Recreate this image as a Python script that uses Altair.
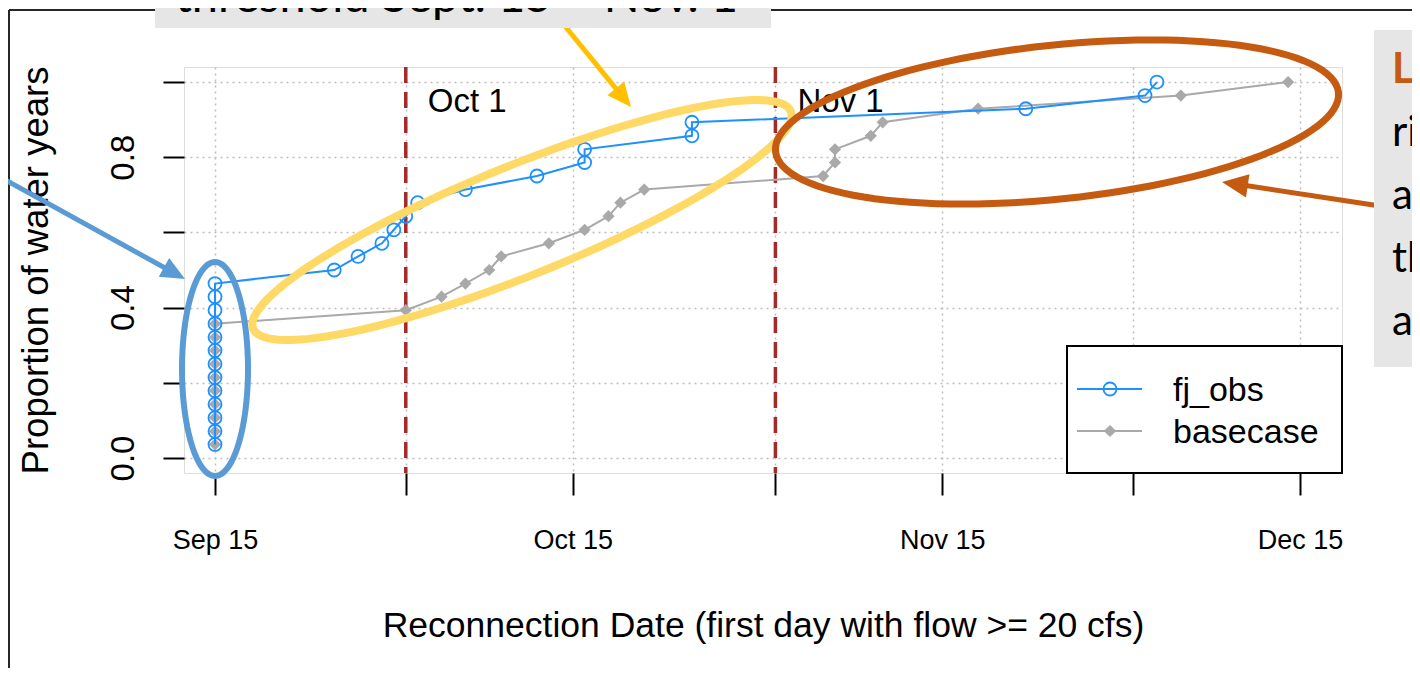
import json
import math
import numpy as np
import pandas as pd
import altair as alt

# ---------------- data ----------------
series_names = ["fj_obs", "basecase"]
series_colors = ["#1e90ff", "#a9a9a9"]

fj_dates = ["2001-09-15"] * 13 + [
    "2001-09-25", "2001-09-27", "2001-09-29", "2001-09-30", "2001-10-01",
    "2001-10-02", "2001-10-06", "2001-10-12", "2001-10-16", "2001-10-16",
    "2001-10-25", "2001-10-25", "2001-11-22", "2001-12-02", "2001-12-03"]
fj_props = [0.036, 0.071, 0.107, 0.143, 0.179, 0.214, 0.250, 0.286, 0.321,
            0.357, 0.393, 0.429, 0.464, 0.500, 0.536, 0.571, 0.607, 0.643,
            0.679, 0.714, 0.750, 0.786, 0.821, 0.857, 0.893, 0.929, 0.964, 1.000]

base_dates = ["2001-09-15"] * 10 + [
    "2001-10-01", "2001-10-04", "2001-10-06", "2001-10-08", "2001-10-09",
    "2001-10-13", "2001-10-16", "2001-10-18", "2001-10-19", "2001-10-21",
    "2001-11-05", "2001-11-06", "2001-11-06", "2001-11-09", "2001-11-10",
    "2001-11-18", "2001-12-05", "2001-12-14"]
base_props = [0.036, 0.071, 0.107, 0.143, 0.179, 0.214, 0.250, 0.286, 0.321,
              0.357, 0.393, 0.429, 0.464, 0.500, 0.536, 0.571, 0.607, 0.643,
              0.679, 0.714, 0.750, 0.786, 0.821, 0.857, 0.893, 0.929, 0.964, 1.000]

threshold_dates = ["2001-10-01", "2001-11-01"]
threshold_labels = ["Oct 1", "Nov 1"]
threshold_label_y = [0.92, 0.92]

x_tick_dates = ["2001-09-15", "2001-10-01", "2001-10-15", "2001-11-01",
                "2001-11-15", "2001-12-01", "2001-12-15"]
x_tick_labels = ["Sep 15", "Oct 15", "Nov 15", "Dec 15"]
x_domain = ["2001-09-12T09:36", "2001-12-18T12:30"]
y_tick_values = [0.0, 0.2, 0.4, 0.6, 0.8, 1.0]
y_tick_labels = ["0.0", "0.4", "0.8"]
y_domain = [-0.04, 1.04]

x_title = "Reconnection Date (first day with flow >= 20 cfs)"
y_title = "Proportion of water years"

top_note = "threshold Sept. 15 \u2013 Nov. 1"
side_note_lines = ["La", "ri", "al", "th", "at"]

# ---------------- helpers ----------------
FONT = "Liberation Sans"
NOTE_FONT = "Lato"
X0, Y0 = 184, 67          # page position of the plot area's top-left corner
W, H = 1158, 406


def px(x):
    return x - X0


def py(y):
    return y - Y0


def dt(s):
    d, _, t = s.partition("T")
    yy, mm, dd = (int(v) for v in d.split("-"))
    kw = dict(year=yy, month=mm, date=dd, utc=True)
    if t:
        hh, mi = (int(v) for v in t.split(":"))
        kw.update(hours=hh, minutes=mi)
    return alt.DateTime(**kw)


def ellipse_path(ratio, n=120):
    t = np.linspace(0, 2 * np.pi, n, endpoint=False)
    pts = [f"{math.cos(a):.4f} {ratio * math.sin(a):.4f}" for a in t]
    return "M " + " L ".join(pts) + " Z"


ARROW_HEAD = "M 0 0 L -1 -0.45 L -1 0.45 Z"
one = alt.Data(values=[{"k": 0}])

# ---------------- scales / axes ----------------
x_label_expr = (f"indexof({json.dumps(x_tick_labels)}, utcFormat(datum.value, '%b %d')) >= 0"
                f" ? utcFormat(datum.value, '%b %d') : ''")
y_label_expr = (f"indexof({json.dumps(y_tick_labels)}, format(datum.value, '.1f')) >= 0"
                f" ? format(datum.value, '.1f') : ''")

x_enc = alt.X(
    "date:T",
    scale=alt.Scale(type="utc", domain=[dt(s) for s in x_domain], nice=False),
    axis=alt.Axis(
        values=[dt(s) for s in x_tick_dates], labelExpr=x_label_expr,
        title=x_title, titleFont=FONT, titleFontSize=35.5, titleFontWeight="normal",
        titleColor="black", titleY=163, titleBaseline="alphabetic",
        labelFont=FONT, labelFontSize=27, labelColor="black", labelPadding=32,
        labelFlush=False, labelOverlap=False,
        tickSize=22, tickWidth=2, tickColor="black", domain=False,
        grid=True, gridDash=[2, 4], gridColor="#bdbdbd", gridWidth=1.5),
)
y_enc = alt.Y(
    "p:Q",
    scale=alt.Scale(domain=y_domain, nice=False, zero=False),
    axis=alt.Axis(
        values=y_tick_values, labelExpr=y_label_expr,
        title=y_title, titleFont=FONT, titleFontSize=36.5, titleFontWeight="normal",
        titleColor="black", titleAngle=270, titleX=-137, titleY=H / 2,
        titleBaseline="alphabetic", titleAlign="center",
        labelFont=FONT, labelFontSize=33, labelColor="black", labelAngle=270,
        labelAlign="center", labelBaseline="alphabetic", labelPadding=30,
        labelFlush=False, labelOverlap=False,
        tickSize=21, tickWidth=2, tickColor="black", domain=False,
        grid=True, gridDash=[2, 4], gridColor="#bdbdbd", gridWidth=1.5),
)

fj_df = pd.DataFrame({"date": fj_dates, "p": fj_props, "series": series_names[0]})
base_df = pd.DataFrame({"date": base_dates, "p": base_props, "series": series_names[1]})
thr_df = pd.DataFrame({"date": threshold_dates, "p": threshold_label_y, "label": threshold_labels})

layers = []

# threshold lines and their labels
layers.append(alt.Chart(thr_df).mark_rule(color="#a52a2a", strokeWidth=3.5, strokeDash=[16, 9])
              .encode(x=x_enc))
layers.append(alt.Chart(thr_df).mark_text(align="left", baseline="alphabetic", dx=22,
                                          font=FONT, fontSize=33, color="black")
              .encode(x=x_enc, y=y_enc, text="label:N"))

# data series: basecase first, fj_obs on top
for df, color, pt in [(base_df, series_colors[1], "base"), (fj_df, series_colors[0], "fj")]:
    layers.append(alt.Chart(df).mark_line(color=color, strokeWidth=2)
                  .encode(x=x_enc, y=y_enc, order=alt.Order("p:Q")))
    if pt == "base":
        mk = alt.Chart(df).mark_point(shape="diamond", filled=True, color=color,
                                      size=150, opacity=1, strokeWidth=0)
    else:
        mk = alt.Chart(df).mark_point(shape="circle", filled=False, color=color,
                                      size=169, opacity=1, strokeWidth=1.8)
    layers.append(mk.encode(x=x_enc, y=y_enc))

# manual legend (R style)
layers.append(alt.Chart(one).mark_rect(fill="white", stroke="black", strokeWidth=2)
              .encode(x=alt.value(px(1067)), x2=alt.value(px(1342)),
                      y=alt.value(py(346)), y2=alt.value(py(473))))
legend_rows = [389, 431]
for name, color, ry in zip(series_names, series_colors, legend_rows):
    layers.append(alt.Chart(one).mark_rule(color=color, strokeWidth=2)
                  .encode(x=alt.value(px(1077)), x2=alt.value(px(1142)),
                          y=alt.value(py(ry)), y2=alt.value(py(ry))))
    if name == "fj_obs":
        m = alt.Chart(one).mark_point(shape="circle", filled=False, color=color,
                                      size=169, opacity=1, strokeWidth=1.8)
    else:
        m = alt.Chart(one).mark_point(shape="diamond", filled=True, color=color,
                                      size=150, opacity=1, strokeWidth=0)
    layers.append(m.encode(x=alt.value(px(1110)), y=alt.value(py(ry))))
    layers.append(alt.Chart(one).mark_text(align="left", baseline="middle", font=FONT,
                                           fontSize=34, color="black")
                  .encode(x=alt.value(px(1173)), y=alt.value(py(ry + 2)),
                          text=alt.value(name)))

# slide frame lines
layers.append(alt.Chart(one).mark_rule(color="#262626", strokeWidth=2)
              .encode(x=alt.value(px(9)), x2=alt.value(px(1420)),
                      y=alt.value(py(10)), y2=alt.value(py(10))))
layers.append(alt.Chart(one).mark_rule(color="#262626", strokeWidth=2)
              .encode(x=alt.value(px(9)), x2=alt.value(px(9)),
                      y=alt.value(py(10)), y2=alt.value(py(687))))

# arrows (start page xy, tip page xy, colour, width, head length)
arrows = [
    ((0, 177), (185, 279), "#5b9bd5", 5, 24),
    ((560, 20), (631, 107), "#ffc000", 5, 24),
    ((1380, 206), (1222, 182), "#c55a11", 5, 26),
]
for (sx, sy), (tx, ty), color, w, L in arrows:
    ang = math.degrees(math.atan2(ty - sy, tx - sx))
    ux, uy = math.cos(math.radians(ang)), math.sin(math.radians(ang))
    ex, ey = tx - 0.6 * L * ux, ty - 0.6 * L * uy
    layers.append(alt.Chart(one).mark_rule(color=color, strokeWidth=w)
                  .encode(x=alt.value(px(sx)), x2=alt.value(px(ex)),
                          y=alt.value(py(sy)), y2=alt.value(py(ey))))
    layers.append(alt.Chart(one).mark_point(shape=ARROW_HEAD, filled=True, color=color,
                                            opacity=1, strokeWidth=0, size=(2 * L) ** 2,
                                            angle=ang % 360)
                  .encode(x=alt.value(px(tx)), y=alt.value(py(ty))))

# grey call-out boxes and their (cut-off) text
layers.append(alt.Chart(one).mark_rect(color="#e7e6e6")
              .encode(x=alt.value(px(155)), x2=alt.value(px(771)),
                      y=alt.value(py(0)), y2=alt.value(py(28))))
layers.append(alt.Chart(one).mark_text(align="left", baseline="alphabetic", font=NOTE_FONT,
                                       fontSize=47, color="black")
              .encode(x=alt.value(px(175)), y=alt.value(py(12)), text=alt.value(top_note)))
layers.append(alt.Chart(one).mark_rect(color="#e7e6e6")
              .encode(x=alt.value(px(1374)), x2=alt.value(px(1440)),
                      y=alt.value(py(30)), y2=alt.value(py(367))))
side_baselines = [83, 146, 209, 272, 335]
for i, (txt, by) in enumerate(zip(side_note_lines, side_baselines)):
    layers.append(alt.Chart(one).mark_text(align="left", baseline="alphabetic", font=NOTE_FONT,
                                           fontSize=42,
                                           fontWeight="bold" if i == 0 else "normal",
                                           color="#c55a11" if i == 0 else "black")
                  .encode(x=alt.value(px(1392)), y=alt.value(py(by)), text=alt.value(txt)))

# ellipses (centre page xy, semi-axis along shape x, semi-axis along shape y, angle, colour, width)
ellipses = [
    ((215, 369), 107, 33, 90, "#5b9bd5", 6),
    ((522, 220), 290, 55, 338, "#ffd966", 8),
    ((1057, 122), 283, 77, 354, "#c55a11", 7),
]
for (cx, cy), a, b, ang, color, w in ellipses:
    layers.append(alt.Chart(one).mark_point(shape=ellipse_path(b / a), filled=False, color=color,
                                            stroke=color, strokeWidth=w, opacity=1,
                                            size=(2 * a) ** 2, angle=ang)
                  .encode(x=alt.value(px(cx)), y=alt.value(py(cy))))

chart = alt.layer(*layers).properties(
    width=W, height=H,
    padding={"left": X0 - 8, "top": Y0 - 8, "right": 70, "bottom": 195},
    autosize=alt.AutoSizeParams(type="none"),
).configure_view(stroke="black", strokeWidth=2.5).configure(background="white")

chart.save("out.html", embed_options={"renderer": "svg", "actions": False})
